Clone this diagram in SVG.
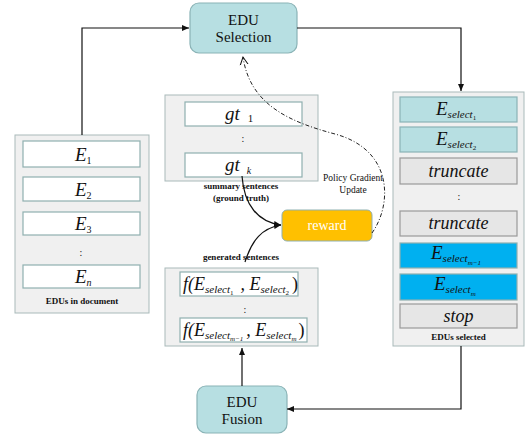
<svg xmlns="http://www.w3.org/2000/svg" width="527" height="439" viewBox="0 0 527 439">
<defs>
<style>
.cont{fill:#f0f0f0;stroke:#a9baba;stroke-width:1}
.inner{fill:#ffffff;stroke:#8fb0b0;stroke-width:1.2}
.gray{fill:#e6e6e6;stroke:#9a9a9a;stroke-width:1.2}
.cyan{fill:#b7dfe2;stroke:#8ab3b6;stroke-width:1.2}
.blue{fill:#00b0f0;stroke:#8fb0b0;stroke-width:1.2}
.proc{fill:#b7dfe2;stroke:#8ab3b6;stroke-width:1.2}
text{font-family:Liberation Serif, Times New Roman, Times, serif;fill:#111}
.m{font-style:italic}
.lab{font-weight:bold;font-size:9px;text-anchor:middle}
.line{fill:none;stroke:#111;stroke-width:1.2}
.dd{fill:none;stroke:#222;stroke-width:1;stroke-dasharray:4 2 1 2}
</style>
<marker id="ah" markerWidth="8" markerHeight="8" refX="7" refY="4" orient="auto" markerUnits="userSpaceOnUse">
<path d="M0,1 L7,4 L0,7 Z" fill="#111"/>
</marker>
<marker id="ao" markerWidth="10" markerHeight="10" refX="8" refY="5" orient="auto" markerUnits="userSpaceOnUse">
<path d="M0,1 L8,5 L0,9" fill="none" stroke="#111" stroke-width="1"/>
</marker>
</defs>

<g id="edu-selection">
<rect class="proc" x="190" y="3" width="107" height="50" rx="9"/>
<text x="243.5" y="25" font-size="15" text-anchor="middle">EDU</text>
<text x="243.5" y="42" font-size="15" text-anchor="middle">Selection</text>
</g>

<g id="edu-fusion">
<rect class="proc" x="197" y="386" width="90" height="47" rx="9"/>
<text x="242" y="407" font-size="15" text-anchor="middle">EDU</text>
<text x="242" y="424" font-size="15" text-anchor="middle">Fusion</text>
</g>

<g id="edus-in-document">
<rect class="cont" x="15" y="135" width="134" height="178"/>
<rect class="inner" x="23" y="141" width="117" height="26"/>
<text class="m" x="75" y="161" font-size="19">E<tspan style="font-size:10px;font-style:normal" dy="3">1</tspan></text>
<rect class="inner" x="23" y="177" width="117" height="24"/>
<text class="m" x="75" y="196" font-size="19">E<tspan style="font-size:10px;font-style:normal" dy="3">2</tspan></text>
<rect class="inner" x="23" y="212" width="117" height="23"/>
<text class="m" x="75" y="230" font-size="19">E<tspan style="font-size:10px;font-style:normal" dy="3">3</tspan></text>
<text x="81" y="256" font-size="10" text-anchor="middle">:</text>
<rect class="inner" x="23" y="265" width="117" height="23"/>
<text class="m" x="75" y="283" font-size="19">E<tspan style="font-size:10px" dy="3">n</tspan></text>
<text class="lab" x="82" y="304">EDUs in document</text>
</g>

<g id="summary-sentences">
<rect class="cont" x="165" y="95" width="153" height="86"/>
<rect class="inner" x="185" y="102" width="117" height="24"/>
<text class="m" x="225" y="120" font-size="19">gt<tspan style="font-size:11px;font-style:normal" dx="8" dy="2">1</tspan></text>
<text x="243" y="142" font-size="10" text-anchor="middle">:</text>
<rect class="inner" x="185" y="153" width="117" height="24"/>
<text class="m" x="225" y="171" font-size="19">gt<tspan style="font-size:10px" dx="7" dy="3">k</tspan></text>
<text class="lab" x="241" y="189">summary sentences</text>
<text class="lab" x="241" y="201">(ground truth)</text>
</g>

<g id="reward">
<rect x="282" y="210" width="90" height="31" rx="5" fill="#ffc000" stroke="#8fb0b0" stroke-width="1"/>
<text x="327" y="230" font-size="14" text-anchor="middle" style="fill:#ffffff">reward</text>
<text x="353" y="181" font-size="9.5" text-anchor="middle">Policy Gradient</text>
<text x="353" y="193" font-size="9.5" text-anchor="middle">Update</text>
</g>

<g id="generated-sentences">
<text class="lab" x="241" y="260">generated sentences</text>
<rect class="cont" x="165" y="268" width="153" height="78"/>
<rect class="inner" x="180" y="272" width="118" height="24"/>
<text class="m" x="183" y="290" font-size="18">f(E<tspan style="font-size:11px" dy="3">select</tspan><tspan style="font-size:7px;font-style:normal" dy="2">1</tspan><tspan style="font-size:18px" dx="7" dy="-5">, E</tspan><tspan style="font-size:11px" dy="3">select</tspan><tspan style="font-size:7px;font-style:normal" dy="2">2</tspan><tspan style="font-size:18px;font-style:normal" dx="3" dy="-5">)</tspan></text>
<text x="245" y="313" font-size="10" text-anchor="middle">:</text>
<rect class="inner" x="180" y="318" width="127" height="24"/>
<text class="m" x="183" y="336" font-size="18">f(E<tspan style="font-size:11px" dy="3">select</tspan><tspan style="font-size:7px" dy="2">m−1</tspan><tspan style="font-size:18px" dx="3" dy="-5">, E</tspan><tspan style="font-size:11px" dy="3">select</tspan><tspan style="font-size:7px" dy="2">m</tspan><tspan style="font-size:18px;font-style:normal" dx="2" dy="-5">)</tspan></text>
</g>

<g id="edus-selected">
<rect class="cont" x="393" y="92" width="131" height="254"/>
<rect class="cyan" x="400" y="97" width="117" height="25"/>
<text class="m" x="436" y="115" font-size="19">E<tspan style="font-size:11px" dy="3">select</tspan><tspan style="font-size:7px;font-style:normal" dy="2">1</tspan></text>
<rect class="cyan" x="400" y="127" width="117" height="25"/>
<text class="m" x="436" y="145" font-size="19">E<tspan style="font-size:11px" dy="3">select</tspan><tspan style="font-size:7px;font-style:normal" dy="2">2</tspan></text>
<rect class="gray" x="400" y="158" width="117" height="26"/>
<text class="m" x="458.5" y="177" font-size="18" text-anchor="middle">truncate</text>
<text x="459" y="200" font-size="10" text-anchor="middle">:</text>
<rect class="gray" x="400" y="211" width="117" height="25"/>
<text class="m" x="458.5" y="229" font-size="18" text-anchor="middle">truncate</text>
<rect class="blue" x="400" y="243" width="117" height="25"/>
<text class="m" x="431" y="259" font-size="19">E<tspan style="font-size:11px" dy="3">select</tspan><tspan style="font-size:7px" dy="3">m−1</tspan></text>
<rect class="blue" x="400" y="274" width="117" height="26"/>
<text class="m" x="434" y="290" font-size="19">E<tspan style="font-size:11px" dy="3">select</tspan><tspan style="font-size:7px" dy="3">m</tspan></text>
<rect class="gray" x="400" y="304" width="117" height="24"/>
<text class="m" x="458.5" y="322" font-size="18" text-anchor="middle">stop</text>
<text class="lab" x="458.5" y="340">EDUs selected</text>
</g>

<g id="connectors">
<polyline class="line" points="82,135 82,28 189,28" marker-end="url(#ah)"/>
<polyline class="line" points="297,28 461,28 461,91" marker-end="url(#ah)"/>
<polyline class="line" points="461,346 461,409 287,409" marker-end="url(#ah)"/>
<line class="line" x1="242" y1="386" x2="242" y2="348" marker-end="url(#ah)"/>
<path class="line" d="M242,176 C244,205 258,222 281,225" marker-end="url(#ah)"/>
<path class="line" d="M245,262 C252,240 262,228 281,225" marker-end="url(#ah)"/>
<path class="dd" d="M372,233 C392,205 394,150 335,134 C290,122 250,105 243,57" marker-end="url(#ao)"/>
</g>
</svg>
